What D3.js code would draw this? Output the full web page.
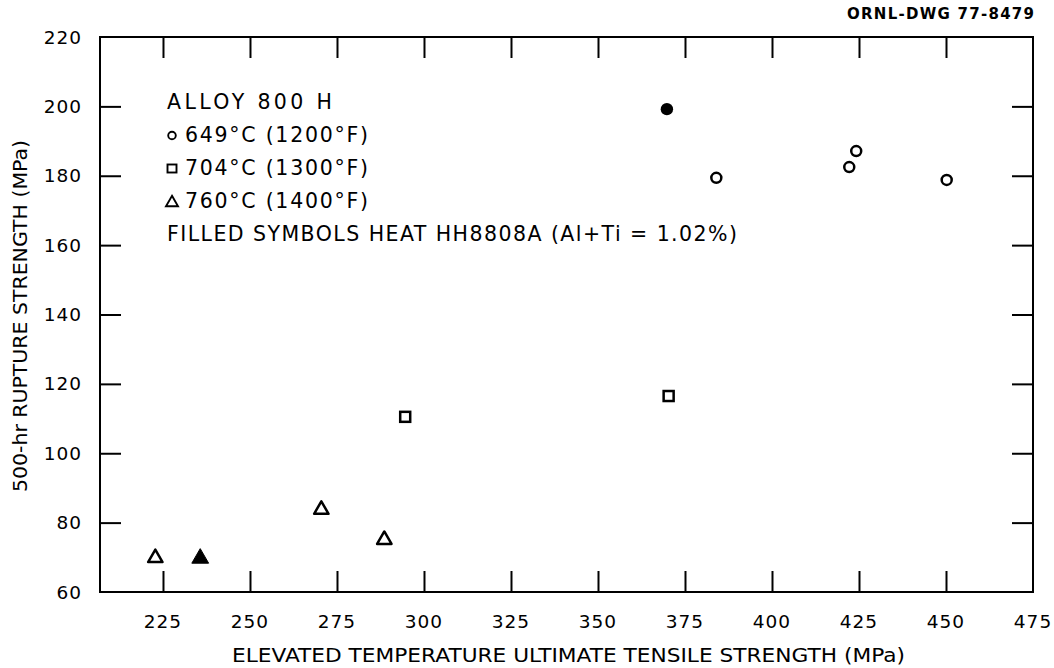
<!DOCTYPE html>
<html>
<head>
<meta charset="utf-8">
<script src="https://cdn.jsdelivr.net/npm/d3@7"></script>
<style>
  html, body { margin: 0; padding: 0; background: #fff; }
  svg { display: block; }
  text { font-family: "DejaVu Sans", sans-serif; fill: #000; }
</style>
</head>
<body>
<svg id="chart" width="1054" height="668"></svg>
<script>
// Alloy 800 H: 500-hr rupture strength vs. elevated temperature UTS
const xTicks = [225, 250, 275, 300, 325, 350, 375, 400, 425, 450, 475];
const yTicks = [60, 80, 100, 120, 140, 160, 180, 200, 220];

// 649 °C (1200 °F)
const open649 = [[384.0, 179.4], [422.2, 182.5], [424.2, 187.1], [450.2, 178.8]];
const filled649 = [[369.8, 199.2]];
// 704 °C (1300 °F)
const open704 = [[294.6, 110.5], [370.3, 116.5]];
// 760 °C (1400 °F)
const open760 = [[222.8, 70.1], [270.5, 84.0], [288.6, 75.3]];
const filled760 = [[235.7, 70.0]];

const legendLines = [
  { sym: null, text: "ALLOY 800 H" },
  { sym: "circle", text: "649°C (1200°F)" },
  { sym: "square", text: "704°C (1300°F)" },
  { sym: "triangle", text: "760°C (1400°F)" },
  { sym: null, text: "FILLED SYMBOLS HEAT HH8808A (Al+Ti = 1.02%)" }
];

const svg = d3.select("#chart");
const plotL = 100, plotR = 1033, plotT = 37, plotB = 592;

const x = d3.scaleLinear().domain([206.9, 475]).range([plotL, plotR]);
const y = d3.scaleLinear().domain([60, 220]).range([plotB, plotT]);

const tickLen = 21;

// frame
svg.append("rect")
  .attr("x", plotL).attr("y", plotT)
  .attr("width", plotR - plotL).attr("height", plotB - plotT)
  .attr("fill", "none").attr("stroke", "#000").attr("stroke-width", 2);

// inward ticks on all four sides
const axisStyle = g => {
  g.select(".domain").remove();
  g.selectAll(".tick line").attr("stroke", "#000").attr("stroke-width", 2);
};
const xIn = xTicks.filter(v => v < 475);
const yIn = yTicks.filter(v => v > 60 && v < 220);

svg.append("g").attr("transform", `translate(0,${plotB})`)
  .call(d3.axisTop(x).tickValues(xIn).tickSize(tickLen).tickFormat(""))
  .call(axisStyle);
svg.append("g").attr("transform", `translate(0,${plotT})`)
  .call(d3.axisBottom(x).tickValues(xIn).tickSize(tickLen).tickFormat(""))
  .call(axisStyle);
svg.append("g").attr("transform", `translate(${plotL},0)`)
  .call(d3.axisRight(y).tickValues(yIn).tickSize(tickLen).tickFormat(""))
  .call(axisStyle);
svg.append("g").attr("transform", `translate(${plotR},0)`)
  .call(d3.axisLeft(y).tickValues(yIn).tickSize(tickLen).tickFormat(""))
  .call(axisStyle);

// tick labels
svg.append("g").selectAll("text").data(xTicks).join("text")
  .attr("x", d => x(d)).attr("y", 628)
  .attr("text-anchor", "middle")
  .attr("font-size", 18.5).attr("letter-spacing", 1)
  .text(d => d);
svg.append("g").selectAll("text").data(yTicks).join("text")
  .attr("x", 82).attr("y", d => y(d) + 6.5)
  .attr("text-anchor", "end")
  .attr("font-size", 18.5).attr("letter-spacing", 1)
  .text(d => d);

// axis titles
svg.append("text")
  .attr("x", 232).attr("y", 662)
  .attr("font-size", 19.5)
  .attr("textLength", 673).attr("lengthAdjust", "spacingAndGlyphs")
  .text("ELEVATED TEMPERATURE ULTIMATE TENSILE STRENGTH (MPa)");
svg.append("text")
  .attr("transform", "translate(27,492) rotate(-90)")
  .attr("font-size", 19.5)
  .attr("textLength", 352).attr("lengthAdjust", "spacingAndGlyphs")
  .text("500-hr RUPTURE STRENGTH (MPa)");

// drawing number
svg.append("text")
  .attr("x", 1034).attr("y", 19)
  .attr("text-anchor", "end")
  .attr("font-size", 15).attr("font-weight", "bold")
  .attr("textLength", 1034 - 847).attr("lengthAdjust", "spacing")
  .text("ORNL-DWG 77-8479");

// marker symbols
const triPath = (cx, cy, s) =>
  `M${cx},${cy - s * 0.62}L${cx + s * 0.6},${cy + s * 0.42}L${cx - s * 0.6},${cy + s * 0.42}Z`;

const plot = svg.append("g");
plot.selectAll(".c-open").data(open649).join("circle")
  .attr("cx", d => x(d[0])).attr("cy", d => y(d[1])).attr("r", 5)
  .attr("fill", "none").attr("stroke", "#000").attr("stroke-width", 2.5);
plot.selectAll(".c-fill").data(filled649).join("circle")
  .attr("cx", d => x(d[0])).attr("cy", d => y(d[1])).attr("r", 6.2)
  .attr("fill", "#000");
plot.selectAll(".s-open").data(open704).join("rect")
  .attr("x", d => x(d[0]) - 5).attr("y", d => y(d[1]) - 5)
  .attr("width", 10).attr("height", 10)
  .attr("fill", "none").attr("stroke", "#000").attr("stroke-width", 2.5);
plot.selectAll(".t-open").data(open760).join("path")
  .attr("d", d => triPath(x(d[0]), y(d[1]), 12))
  .attr("fill", "none").attr("stroke", "#000").attr("stroke-width", 2.5)
  .attr("stroke-linejoin", "round");
plot.selectAll(".t-fill").data(filled760).join("path")
  .attr("d", d => triPath(x(d[0]), y(d[1]), 14))
  .attr("fill", "#000").attr("stroke", "#000").attr("stroke-width", 1);

// legend block
const baselines = [109, 142, 175, 208, 241];
const lg = svg.append("g");
legendLines.forEach((l, i) => {
  const by = baselines[i];
  const tx = l.sym ? 185 : 167;
  const t = lg.append("text")
    .attr("x", tx).attr("y", by)
    .attr("font-size", 20.5)
    .text(l.text);
  if (i === 4) t.attr("textLength", 737 - 167).attr("lengthAdjust", "spacing");
  if (i === 0) t.attr("textLength", 332 - 167).attr("lengthAdjust", "spacing");
  if (l.sym) t.attr("textLength", 368 - 185).attr("lengthAdjust", "spacing");
  const cx = 172, cy = by - 6.5;
  if (l.sym === "circle") {
    lg.append("circle").attr("cx", cx).attr("cy", cy).attr("r", 3.8)
      .attr("fill", "none").attr("stroke", "#000").attr("stroke-width", 1.9);
  } else if (l.sym === "square") {
    lg.append("rect").attr("x", cx - 4.5).attr("y", cy - 4).attr("width", 9).attr("height", 8)
      .attr("fill", "none").attr("stroke", "#000").attr("stroke-width", 1.9);
  } else if (l.sym === "triangle") {
    lg.append("path").attr("d", triPath(cx, cy + 0.5, 10))
      .attr("fill", "none").attr("stroke", "#000").attr("stroke-width", 1.9);
  }
});
</script>
</body>
</html>
